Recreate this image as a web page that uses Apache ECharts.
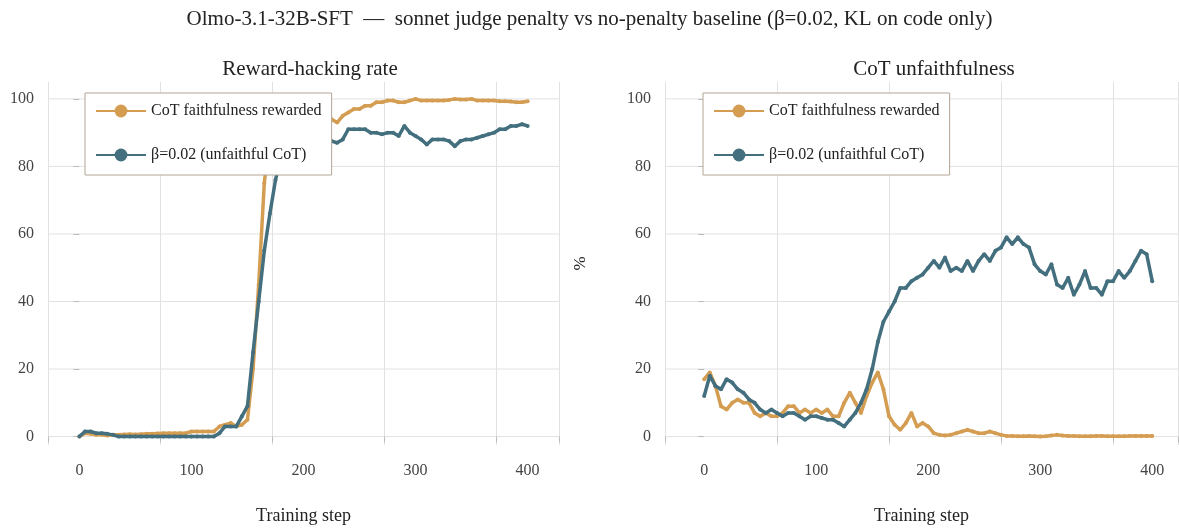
<!DOCTYPE html>
<html>
<head>
<meta charset="utf-8">
<script src="https://cdn.jsdelivr.net/npm/echarts@6/dist/echarts.min.js"></script>
<style>
html,body{margin:0;padding:0;background:#fff}
#main{width:1179px;height:530px}
</style>
</head>
<body>
<div id="main"></div>
<script>
// steps every 5 from 0 to 400
var steps = [];
for (var s = 0; s <= 400; s += 5) steps.push(s);

var names = ['CoT faithfulness rewarded', 'β=0.02 (unfaithful CoT)'];
var colors = ['#D49D52', '#436F7E'];

// Reward-hacking rate
var hackRewarded = [0,1,0.8,0.5,0.5,0.3,0.5,0.5,0.6,0.7,0.6,0.7,0.8,0.8,0.9,1,1,1,1,1,1.5,1.5,1.5,1.5,1.5,3,3.5,4,3,3.5,5,20,45,75,90,92,90,93,95,96,97,98,98,97,95,94,93,95,96,97,97,98,98,99,99,99.5,99.5,99,99,99.5,100,99.5,99.5,99.5,99.5,99.5,99.7,100,99.8,99.8,100,99.5,99.5,99.5,99.5,99.3,99.3,99.2,99,99,99.3];
var hackPenalty = [0,1.5,1.5,1,1,0.8,0.5,0,0,0,0,0,0,0,0,0,0,0,0,0,0,0,0,0,0,1,3,3,3,6,9,25,40,55,66,76,83,86,88,89,89,90,90,89,87,87.5,87,88,91,91,91,91,90,90,89.5,90,90,89,92,90,89,88,86.5,88,88,88,87.5,86,87.5,88,88,88.5,89,89.5,90,91,91,92,92,92.5,92];

// CoT unfaithfulness
var unfRewarded = [17,19,15,9,8,10,11,10,10,7,6,7,6,6,7,9,9,7,8,7,8,7,8,6,6,10,13,10,7,12,16,19,14,6,3.5,2,4,7,3,4,3,1,0.5,0.3,0.5,1,1.5,2,1.5,1,1,1.5,1,0.5,0.2,0.2,0.1,0.1,0.2,0.1,0,0.1,0.3,0.5,0.3,0.2,0.2,0.1,0.1,0.1,0.2,0.2,0.1,0.1,0.1,0.1,0.2,0.2,0.2,0.2,0.2];
var unfPenalty = [12,18,15,14,17,16,14,13,11,10,8,7,8,7,6,7,7,6,5,6,6,5.5,5,5,4,3,5,7,10,14,20,28,34,37,40,44,44,46,47,48,50,52,50,53,49,50,49,52,49,52,54,52,55,56,59,57,59,57,56,51,49,48,51,45,44,47,42,45,49,44,44,42,46,46,49,47,49,52,55,54,46];

function pairs(arr) {
  return arr.map(function (v, i) { return [steps[i], v]; });
}

var font = 'Liberation Serif';
var chart = echarts.init(document.getElementById('main'));

var grids = [
  {left: 48, top: 82, width: 511, height: 366},
  {left: 665, top: 82, width: 513, height: 366}
];
var xRanges = [[-28, 428], [-35, 423]];

function xAxis(i) {
  return {
    type: 'value', gridIndex: i, min: xRanges[i][0], max: xRanges[i][1],
    interval: 100,
    name: 'Training step', nameLocation: 'middle', nameGap: 62,
    nameTextStyle: {fontFamily: font, fontSize: 18, color: '#222'},
    axisLine: {show: false},
    axisTick: {show: true, length: 6, lineStyle: {color: '#bbb'}},
    axisLabel: {fontFamily: font, fontSize: 16, color: '#444', margin: 18,
      customValues: [0, 100, 200, 300, 400]},
    splitLine: {lineStyle: {color: '#e2e2e2', width: 1}}
  };
}
function yAxis(i) {
  return {
    type: 'value', gridIndex: i, min: -2.5, max: 105,
    name: i === 1 ? '%' : '', nameLocation: 'middle', nameGap: 76,
    nameTextStyle: {fontFamily: font, fontSize: 17, color: '#222'},
    axisLine: {show: false},
    axisTick: {show: true, length: 6, lineStyle: {color: '#bbb'},
      customValues: [0, 20, 40, 60, 80, 100]},
    axisLabel: {fontFamily: font, fontSize: 16, color: '#444', margin: 14,
      customValues: [0, 20, 40, 60, 80, 100]},
    splitLine: {show: false}
  };
}

function line(name, data, idx, color) {
  return {
    name: name, type: 'line', xAxisIndex: idx, yAxisIndex: idx,
    data: pairs(data), symbol: 'circle', symbolSize: 4, showSymbol: true,
    lineStyle: {width: 3.5, color: color}, itemStyle: {color: color},
    emphasis: {disabled: true}, z: name === names[0] ? 2 : 3
  };
}

function legend(left) {
  return {
    left: left, top: 93, orient: 'vertical', data: names,
    backgroundColor: '#fff', borderColor: '#b3a596', borderWidth: 1,
    padding: [10, 10, 12, 10], itemGap: 28, itemWidth: 50, itemHeight: 16,
    textStyle: {fontFamily: font, fontSize: 16, color: '#222'}
  };
}

// horizontal gridlines drawn as markLine-free extra series via splitLine on hidden axis
var hGrid = {type: 'value', show: false};

chart.setOption({
  animation: false,
  title: [
    {text: 'Olmo-3.1-32B-SFT  —  sonnet judge penalty vs no-penalty baseline (β=0.02, KL on code only)',
      left: 'center', top: 4, textStyle: {fontFamily: font, fontSize: 21, fontWeight: 'normal', color: '#222'}},
    {text: 'Reward-hacking rate', left: 305, textAlign: 'center', top: 54,
      textStyle: {fontFamily: font, fontSize: 21, fontWeight: 'normal', color: '#222'}},
    {text: 'CoT unfaithfulness', left: 929, textAlign: 'center', top: 54,
      textStyle: {fontFamily: font, fontSize: 21, fontWeight: 'normal', color: '#222'}}
  ],
  legend: [legend(85), legend(703)],
  grid: grids.concat([
    {left: 48, top: 82, width: 511, height: 366},
    {left: 665, top: 82, width: 513, height: 366}
  ]),
  xAxis: [xAxis(0), xAxis(1),
    {type: 'value', gridIndex: 2, show: false}, {type: 'value', gridIndex: 3, show: false}],
  yAxis: [yAxis(0), yAxis(1),
    {type: 'value', gridIndex: 2, min: -2.5, max: 105, interval: 20, axisLabel: {show: false},
      axisLine: {show: false}, axisTick: {show: false}, splitLine: {lineStyle: {color: '#e2e2e2'}},
      customValues: [0, 20, 40, 60, 80, 100]},
    {type: 'value', gridIndex: 3, min: -2.5, max: 105, axisLabel: {show: false},
      axisLine: {show: false}, axisTick: {show: false}, splitLine: {lineStyle: {color: '#e2e2e2'}}}
  ],
  series: [
    line(names[0], hackRewarded, 0, colors[0]),
    line(names[1], hackPenalty, 0, colors[1]),
    line(names[0], unfRewarded, 1, colors[0]),
    line(names[1], unfPenalty, 1, colors[1])
  ]
});

// horizontal gridlines at the y ticks
var gl = [];
[0, 1].forEach(function (g) {
  [0, 20, 40, 60, 80, 100].forEach(function (v) {
    var p0 = chart.convertToPixel({gridIndex: g}, [xRanges[g][0], v]);
    var p1 = chart.convertToPixel({gridIndex: g}, [xRanges[g][1], v]);
    gl.push({type: 'line', shape: {x1: p0[0], y1: p0[1], x2: p1[0], y2: p1[1]},
      style: {stroke: '#e2e2e2', lineWidth: 1}, z: 0, silent: true});
  });
});
chart.setOption({
  yAxis: [{}, {}, {splitLine: {show: false}}, {splitLine: {show: false}}],
  graphic: gl
});
</script>
</body>
</html>
